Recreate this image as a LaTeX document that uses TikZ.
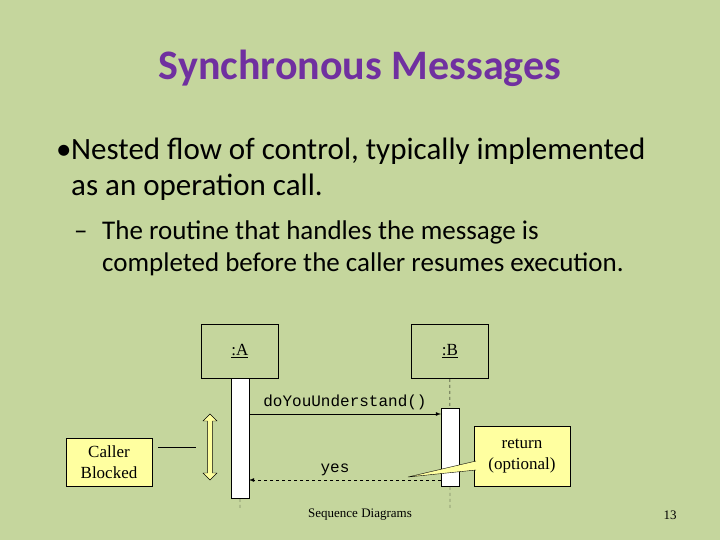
\documentclass[tikz,border=0pt]{standalone}
\usepackage{fontspec}
\setmainfont{Carlito}
\newfontfamily\timesfont{Liberation Serif}
\newfontfamily\courfont{Liberation Mono}
\usetikzlibrary{positioning,shapes.arrows}
\definecolor{slidebg}{RGB}{197,214,157}
\definecolor{titlepurple}{RGB}{112,48,160}
\definecolor{noteyellow}{RGB}{255,255,160}
\begin{document}
\begin{tikzpicture}[x=1pt, y=-1pt, >=latex,
	objbox/.style={draw, thick, minimum width=77pt, minimum height=54pt, inner sep=0pt, font=\timesfont\fontsize{17}{19}\selectfont},
	actbar/.style={draw, fill=white, minimum width=18pt, inner sep=0pt},
	lifeline/.style={dashed},
	notebox/.style={draw, fill=noteyellow, font=\timesfont\fontsize{17}{21}\selectfont, align=center, inner sep=2pt},
	msg/.style={font=\courfont\fontsize{16}{18}\selectfont},
	bulletline/.style={anchor=base west, inner sep=0pt, font=\fontsize{31}{36}\selectfont},
	subline/.style={anchor=base west, inner sep=0pt, font=\fontsize{27}{31}\selectfont}]
	
	% Slide background
	\fill[slidebg] (0,0) rectangle (720,540);
	\useasboundingbox (0,0) rectangle (720,540);
	
	% Title and bullets
	\node[font=\fontsize{42}{46}\selectfont\bfseries, text=titlepurple] (title) at (360,68) {Synchronous Messages};
	\node[bulletline] at (56,160) {•};
	\node[bulletline] (b1a) at (71,160) {Nested flow of control, typically implemented};
	\node[bulletline] (b1b) at (71,196) {as an operation call.};
	\node[subline] at (74,240) {–};
	\node[subline] (b2a) at (102,240) {The routine that handles the message is};
	\node[subline] (b2b) at (102,271) {completed before the caller resumes execution.};
	
	% Objects and lifelines
	\node[objbox, anchor=north west] (objA) at (201,324) {\underline{:A}};
	\node[objbox, anchor=north west] (objB) at (411,324) {\underline{:B}};
	\coordinate (endA) at (240,508);
	\coordinate (endB) at (450,508);
	\draw[lifeline] (objA.south) -- (endA);
	\draw[lifeline] (objB.south) -- (endB);
	\node[actbar, minimum height=120pt, anchor=north] (actA) at (240,378) {};
	\node[actbar, minimum height=78pt, anchor=north] (actB) at (450,408) {};
	
	% Messages
	\coordinate (callA) at (249,414);
	\coordinate (callB) at (441,414);
	\coordinate (retB) at (441,480);
	\coordinate (retA) at (249,480);
	\draw[thick,->] (callA) -- (callB);
	\node[msg, anchor=south] (call) at (345,413) {doYouUnderstand()};
	\draw[thick,dashed,->] (retB) -- (retA);
	\node[msg, anchor=south] (yes) at (335,479) {yes};
	
	% Notes
	\node[notebox, minimum width=96pt, minimum height=60pt] (ret) at (522,456) {return\\(optional)};
	\draw[fill=noteyellow] (476,461) -- (408,477) -- (476,470);
	\node[notebox, minimum width=86pt, minimum height=48pt] (blocked) at (109,462) {Caller\\Blocked};
	\coordinate (tickL) at (158,447);
	\coordinate (tickR) at (196,447);
	\draw (tickL) -- (tickR);
	\node[draw, fill=noteyellow, double arrow, rotate=90, minimum width=14pt, double arrow head extend=2pt, minimum height=66pt, inner sep=1pt] (blockarrow) at (210,447) {};
	
	% Footer
	\node[font=\timesfont\fontsize{13}{15}\selectfont] (footer) at (360,515) {Sequence Diagrams};
	\node[font=\timesfont\fontsize{13}{15}\selectfont] (pagenum) at (670,515) {13};
	
\end{tikzpicture}
\end{document}
